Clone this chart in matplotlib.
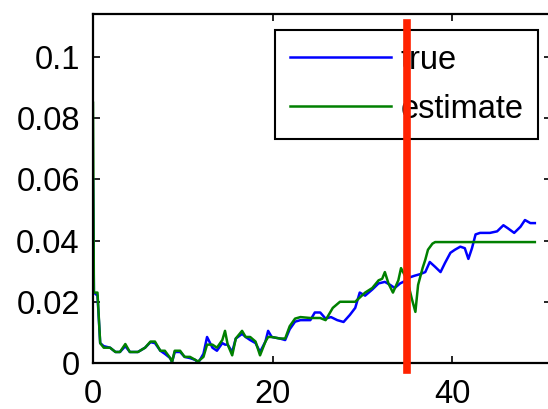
import numpy as np
import matplotlib
matplotlib.use("Agg")
import matplotlib.pyplot as plt

# true series
true_x = [0, 0.1, 0.5, 0.8, 1.2, 1.9, 2.5, 3.0, 3.6, 4.1, 5.0, 5.8, 6.4, 6.9,
          7.5, 8.0, 8.6, 8.8, 9.1, 9.7, 10.2, 10.8, 11.4, 11.7, 12.3, 12.7,
          13.3, 13.8, 14.4, 14.7, 15.0, 15.5, 15.9, 16.6, 17.0, 17.5, 18.1,
          18.6, 19.2, 19.5, 19.9, 20.8, 21.4, 21.9, 22.5, 23.1, 24.2, 24.7,
          25.3, 25.9, 26.5, 27.2, 27.9, 28.6, 29.2, 29.7, 30.3, 31.1, 31.8,
          32.5, 33.1, 33.6, 34.2, 34.9, 35.3, 35.8, 36.4, 37.0, 37.5, 38.1,
          38.7, 39.2, 39.8, 40.3, 40.9, 41.4, 41.8, 42.2, 42.6, 43.1, 44.2,
          45.0, 45.7, 46.2, 46.9, 47.6, 48.1, 48.7, 49.2]
true_y = [0.060, 0.023, 0.022, 0.0065, 0.0055, 0.005, 0.0036, 0.0036, 0.0055,
          0.0036, 0.0036, 0.005, 0.0068, 0.0065, 0.004, 0.003, 0.0016, 0.0003,
          0.0036, 0.0036, 0.002, 0.0016, 0.001, 0.0, 0.003, 0.0085, 0.005,
          0.004, 0.0065, 0.006, 0.006, 0.0036, 0.008, 0.0095, 0.0085, 0.0075,
          0.0065, 0.0036, 0.007, 0.0105, 0.0085, 0.008, 0.0075, 0.011, 0.0135,
          0.014, 0.014, 0.0165, 0.0165, 0.0145, 0.015, 0.014, 0.0134, 0.0157,
          0.018, 0.023, 0.022, 0.024, 0.026, 0.0265, 0.0255, 0.0245, 0.026,
          0.027, 0.028, 0.0285, 0.029, 0.0297, 0.033, 0.0314, 0.0297, 0.0327,
          0.036, 0.037, 0.038, 0.0375, 0.034, 0.0375, 0.042, 0.0425, 0.0425,
          0.043, 0.045, 0.044, 0.0425, 0.0445, 0.0467, 0.0457, 0.0457]

# estimate series
est_x = [0, 0.1, 0.5, 0.8, 1.2, 1.9, 2.5, 3.0, 3.6, 4.1, 5.0, 5.8, 6.4, 6.9,
         7.5, 8.0, 8.6, 8.8, 9.1, 9.7, 10.2, 10.8, 11.4, 11.7, 12.3, 12.7,
         13.3, 13.8, 14.4, 14.7, 15.0, 15.5, 15.9, 16.6, 17.0, 17.5, 18.1,
         18.6, 19.2, 19.5, 19.9, 20.8, 21.4, 21.9, 22.5, 23.1, 24.2, 25.3,
         25.9, 26.7, 27.5, 29.2, 30.3, 31.1, 31.8, 32.2, 32.5, 32.9, 33.4,
         34.0, 34.3, 35.0, 35.5, 35.9, 36.2, 36.7, 37.0, 37.3, 37.8, 38.1,
         49.2]
est_y = [0.085, 0.023, 0.023, 0.0065, 0.005, 0.005, 0.0036, 0.0036, 0.0062,
         0.0036, 0.0036, 0.005, 0.007, 0.007, 0.004, 0.004, 0.0016, 0.0003,
         0.004, 0.004, 0.002, 0.002, 0.001, 0.0005, 0.002, 0.006, 0.006,
         0.005, 0.0075, 0.0105, 0.006, 0.0025, 0.008, 0.0105, 0.0085, 0.0085,
         0.007, 0.0025, 0.007, 0.0085, 0.0085, 0.008, 0.008, 0.012, 0.0145,
         0.015, 0.0147, 0.0147, 0.014, 0.018, 0.02, 0.02, 0.023, 0.0245,
         0.027, 0.0275, 0.0297, 0.026, 0.023, 0.027, 0.031, 0.027, 0.021,
         0.0167, 0.0255, 0.031, 0.0337, 0.037, 0.039, 0.0395, 0.0395]

split_x = 35.0
x_ticks = [0, 20, 40]
y_ticks = [0, 0.02, 0.04, 0.06, 0.08, 0.1]
y_labels = ["0", "0.02", "0.04", "0.06", "0.08", "0.1"]

plt.rcParams['font.family'] = ['Liberation Sans', 'DejaVu Sans']
plt.rcParams['font.size'] = 23.5

fig = plt.figure(figsize=(5.48, 4.09), dpi=100)
ax = fig.add_axes([93 / 548, 46 / 409, 458 / 548, 349 / 409])

ax.plot(true_x, true_y, color='#0000ff', lw=1.8, label='true')
ax.plot(est_x, est_y, color='#008000', lw=1.8, label='estimate')

# red split marker, runs a little past the bottom spine
ax.plot([split_x, split_x], [0.974, -0.02], color='#ff2200', lw=5.5,
        transform=ax.get_xaxis_transform(), clip_on=False, zorder=10)

ax.set_xlim(0, 51)
ax.set_ylim(0, 0.114)
ax.set_xticks(x_ticks)
ax.set_yticks(y_ticks)
ax.set_yticklabels(y_labels)
ax.tick_params(direction='in', length=5, width=1.2, top=True, right=True)
ax.tick_params(axis='x', pad=11.5)
ax.tick_params(axis='y', pad=9.5)
for s in ax.spines.values():
    s.set_linewidth(1.6)

leg = ax.legend(loc='upper left', bbox_to_anchor=(275 / 548, 1 - 30 / 409),
                bbox_transform=fig.transFigure, borderaxespad=0,
                handlelength=3.1, handletextpad=0.3, borderpad=0.45,
                labelspacing=0.55, fancybox=False, framealpha=1)
leg.get_frame().set_edgecolor('black')
leg.get_frame().set_linewidth(1.5)

fig.savefig('out.png', dpi=100)
